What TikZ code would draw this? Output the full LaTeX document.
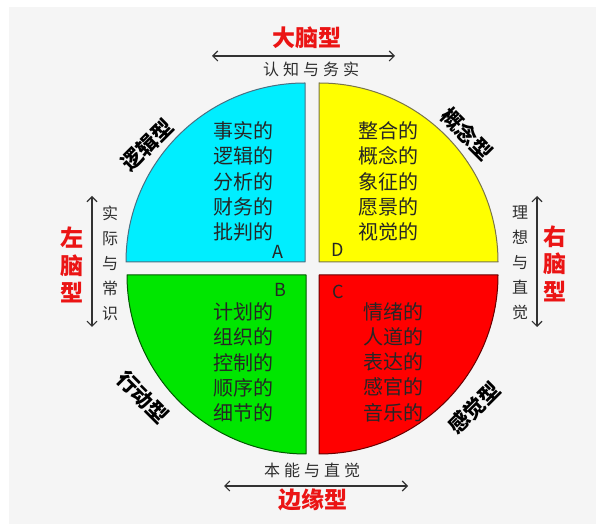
\documentclass[tikz,border=0pt]{standalone}
\usepackage{fontspec}
\setmainfont{Noto Sans CJK SC}
\newfontfamily\cjk{Noto Sans CJK SC}
\usetikzlibrary{arrows.meta}
\definecolor{bgc}{RGB}{245,245,245}
\definecolor{qcyan}{RGB}{0,238,255}
\definecolor{qyellow}{RGB}{255,255,0}
\definecolor{qgreen}{RGB}{0,230,0}
\definecolor{qred}{RGB}{255,0,0}
\definecolor{titlered}{RGB}{235,20,20}
\definecolor{arrowc}{RGB}{50,50,50}
\begin{document}
\begin{tikzpicture}[x=1pt,y=1pt,
  quad/.style={line width=1pt,line join=round},
  qtext/.style={font=\cjk\fontsize{20}{25.3}\selectfont,align=center,text=black!85,inner sep=0pt},
  qletter/.style={font=\cjk\fontsize{18}{18}\selectfont,text=black!85,inner sep=0pt},
  diag/.style={font=\cjk\bfseries\fontsize{21}{21}\selectfont,text=black,inner sep=0pt},
  title/.style={font=\cjk\bfseries\fontsize{23}{27.5}\selectfont,text=titlered,align=center,inner sep=0pt},
  side/.style={font=\cjk\fontsize{16}{25}\selectfont,text=black!82,align=center,inner sep=0pt},
  dbl/.style={arrowc,line width=1.1pt,{Straight Barb[length=5pt,width=10pt]}-{Straight Barb[length=5pt,width=10pt]}}]
\useasboundingbox (0,0) rectangle (596,524);
\fill[white] (0,0) rectangle (596,524);
\fill[bgc] (9,0) rectangle (596,517);
% quadrants
\filldraw[quad,fill=qcyan,draw=cyan!45!black] (305,262) -- ++(-179,0) arc[start angle=180,end angle=90,radius=179] -- cycle;
\filldraw[quad,fill=qyellow,draw=yellow!40!black] (319,262) -- ++(0,179) arc[start angle=90,end angle=0,radius=179] -- cycle;
\filldraw[quad,fill=qgreen,draw=green!35!black] (306,249) -- ++(-179,0) arc[start angle=180,end angle=270,radius=179] -- cycle;
\filldraw[quad,fill=qred,draw=red!40!black] (319,249) -- ++(179,0) arc[start angle=0,end angle=-90,radius=179] -- cycle;
% quadrant texts
\node[qtext] (ta) at (243.5,342.5) {事实的\\逻辑的\\分析的\\财务的\\批判的};
\node[qletter] (la) at (278,272) {A};
\node[qtext] (td) at (388,342.5) {整合的\\概念的\\象征的\\愿景的\\视觉的};
\node[qletter] (ld) at (338,274) {D};
\node[qtext] (tb) at (243,161.5) {计划的\\组织的\\控制的\\顺序的\\细节的};
\node[qletter] (lb) at (280,234) {B};
\node[qtext] (tc) at (393,162) {情绪的\\人道的\\表达的\\感官的\\音乐的};
\node[qletter] (lc) at (338,232) {C};
% diagonal labels
\node[diag,rotate=45] (d1) at (147,379) {逻辑型};
\node[diag,rotate=-45] (d2) at (467,390) {概念型};
\node[diag,rotate=-45] (d3) at (143,127) {行动型};
\node[diag,rotate=45] (d4) at (474,116) {感觉型};
% top
\node[title] (top) at (307,486) {大脑型};
\coordinate (tl) at (212,468);
\coordinate (tr) at (395,468);
\draw[dbl] (tl) -- (tr);
\node[side] (topt) at (311,455) {认\hspace{4pt}知\hspace{4pt}与\hspace{4pt}务\hspace{4pt}实};
% bottom
\node[side] (bott) at (312,54) {本\hspace{4pt}能\hspace{4pt}与\hspace{4pt}直\hspace{4pt}觉};
\coordinate (bl) at (224,38);
\coordinate (br) at (408,38);
\draw[dbl] (bl) -- (br);
\node[title] (bot) at (313,24) {边缘型};
% left
\node[title] (left) at (72,259) {左\\脑\\型};
\coordinate (lt) at (92,328);
\coordinate (lbm) at (92,197);
\draw[dbl] (lt) -- (lbm);
\node[side] (leftt) at (110,261) {实\\际\\与\\常\\识};
% right
\node[title] (right) at (555,260.5) {右\\脑\\型};
\coordinate (rt) at (537,328);
\coordinate (rb) at (537,197);
\draw[dbl] (rt) -- (rb);
\node[side] (rightt) at (520,261) {理\\想\\与\\直\\觉};
\end{tikzpicture}
\end{document}
